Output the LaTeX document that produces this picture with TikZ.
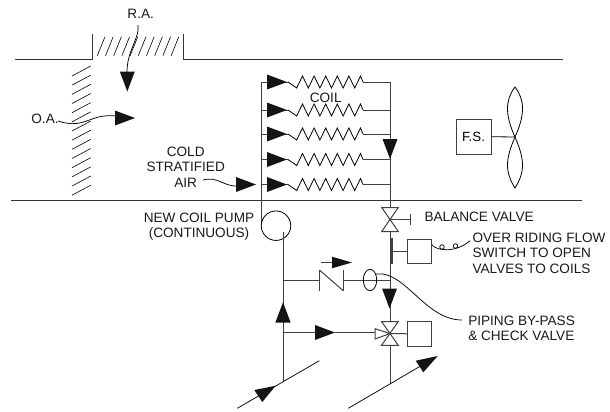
\documentclass[tikz,border=0pt]{standalone}
\usepackage{fontspec}
\setmainfont{Liberation Sans}
\tikzset{
    pipe/.style={line width=0.75pt,black!75},
    duct/.style={line width=0.75pt,black!80},
    leader/.style={line width=0.55pt},
    louver/.style={line width=0.45pt},
    flowtip/.style={fill=black!92,draw=none},
    equip/.style={draw=black!75,line width=0.75pt,fill=white,inner sep=0pt},
    valvepart/.style={draw=black!75,line width=0.75pt,fill=white},
    lab/.style={font=\fontsize{10.2}{11.6}\selectfont,inner sep=0pt,text=black!90}
}
\newcommand{\flowright}[2]{\fill[flowtip] (#1-10,#2-7.5) -- (#1+10,#2) -- (#1-10,#2+7.5) -- cycle;}
\newcommand{\flowdown}[2]{\fill[flowtip] (#1-7.5,#2-10) -- (#1,#2+10) -- (#1+7.5,#2-10) -- cycle;}
\begin{document}
\begin{tikzpicture}[x=0.75pt,y=-0.75pt]
    \useasboundingbox (0,0) rectangle (610,411);
    % duct
    \coordinate (ductl) at (15,59.5);
    \coordinate (raL) at (92,59.5);
    \coordinate (raR) at (183,59.5);
    \coordinate (ductr) at (563,59.5);
    \draw[duct] (ductl) -- (raL) -- (92,34);
    \draw[duct] (183,34) -- (raR) -- (ductr);
    \draw[duct] (10.5,200) -- (582,200);
    % louvers
    \foreach \i in {0,...,9}
        \draw[louver] (97.3+\i*8.2,55.7) -- (105+\i*8.2,36.7);
    \foreach \i in {0,...,13}
        \draw[louver] (72,76+\i*9.17) -- (90.7,66+\i*9.17);
    % air arrows
    \draw[leader] (138,25) .. controls (140,38) and (127,50) .. (127,72);
    \flowdown{127.3}{81.5}
    \draw[leader] (58,121) .. controls (85,130) and (90,113) .. (116,116);
    \flowright{125}{118}
    \draw[leader] (203,180) .. controls (218,176) and (222,186) .. (237,186);
    \flowright{246}{184.5}
    % coil bank
    \draw[pipe] (261.5,82) -- (261.5,225);
    \draw[pipe] (390,82) -- (390,384);
    \foreach \y in {82,110,134,159.5,184.5}{
        \draw[pipe] (261.5,\y) -- (288,\y);
        \draw[line width=0.6pt] (288,\y) -- (296.7,\y+6)
            \foreach \k in {0,...,4}{ -- (302.5+\k*11.6,\y-6) -- (308.3+\k*11.6,\y+6) }
            -- (360.5,\y-6) -- (363,\y);
        \draw[pipe] (363,\y) -- (390,\y);
        \flowright{277}{\y}
    }
    \flowdown{390}{149}
    \node[lab] (coillabel) at (325.7,98.3) {COIL};
    % fan
    \node[equip,minimum size=26.25pt] (fs) at (473.5,136.5) {F.S.};
    \coordinate (hub) at (515,137);
    \draw[line width=0.6pt] (fs) -- (hub);
    \draw[line width=0.6pt] (hub) .. controls (505,115) and (505,100) .. (515,87) .. controls (525,100) and (525,115) .. (hub);
    \draw[line width=0.6pt] (hub) .. controls (505,160) and (505,172) .. (515,188) .. controls (525,172) and (525,160) .. (hub);
    % pump and by-pass
    \node[draw=black,line width=0.6pt,circle,minimum size=22.1pt,inner sep=0pt] (pump) at (276,225.7) {};
    \draw[pipe] (283.3,232) -- (283.3,382);
    \draw[pipe] (283.3,280) -- (319.5,280);
    \draw[pipe] (319.5,270) -- (319.5,290.5);
    \draw[pipe] (319.5,270) -- (343,290.5);
    \draw[pipe] (343,270) -- (343,290.5);
    \draw[pipe] (343,280) -- (390,280);
    \draw[line width=0.6pt] (370,280) ellipse (6.7 and 10.7);
    \draw[pipe] (320.5,262.5) -- (334,262.5);
    \fill[flowtip] (332,256.7) -- (352,262.5) -- (332,268.3) -- cycle;
    \flowdown{389.5}{298.5}
    \fill[flowtip] (283,302.3) -- (275.3,322.7) -- (290.7,322.7) -- cycle;
    \draw[pipe] (283.3,332.7) -- (320,332.7);
    \flowright{325}{332.5}
    \draw[pipe] (335,332.7) -- (376,332.7);
    \draw[leader] (376,274) .. controls (405,270) and (425,320) .. (462,320);
    % balance valve
    \draw[valvepart] (381.7,207.5) -- (398.3,207.5) -- (381.7,231.5) -- (398.3,231.5) -- cycle;
    \draw[pipe] (390,219.5) -- (410.7,219.5);
    \draw[pipe] (410.7,214) -- (410.7,225);
    % flow switch
    \draw[line width=1.2pt,black!75] (391.7,238) -- (391.7,264);
    \node[equip,minimum size=18.2pt] (fsw) at (419.7,251.3) {};
    \draw[pipe] (391.7,251.3) -- (fsw);
    \draw[leader] (432,245) .. controls (437,251) and (456,253) .. (470,240.7);
    \draw[leader] (442,247) circle (2.3);
    \draw[leader] (455.5,246) circle (2.3);
    % control valve
    \draw[valvepart] (381.5,321.5) -- (398.3,321.5) -- (381.5,345.3) -- (398.3,345.3) -- cycle;
    \draw[valvepart] (390,333.5) -- (375,328.7) -- (375,339) -- cycle;
    \node[equip,minimum size=18.2pt] (cv) at (419.5,334) {};
    \draw[pipe] (390,333.5) -- (cv);
    % lower mains
    \draw[leader] (237.3,408.3) -- (319.3,360.7);
    \draw[leader] (348.3,408.3) -- (430,360.5);
    \fill[flowtip] (254.3,390) -- (275.7,385.7) -- (262.3,402) -- cycle;
    \fill[flowtip] (415.7,360.7) -- (437.7,356) -- (423.3,372.3) -- cycle;
    % labels
    \node[lab] (ra) at (140.7,14) {R.A.};
    \node[lab] (oa) at (45,119) {O.A.};
    \node[lab,align=center] (cold) at (185.7,167) {COLD\\STRATIFIED\\AIR};
    \node[lab,align=center] (newpump) at (199,226.5) {NEW COIL PUMP\\(CONTINUOUS)};
    \node[lab,anchor=west] (balance) at (424.3,216.7) {BALANCE VALVE};
    \node[lab,anchor=west,align=left] (override) at (472.3,253) {OVER RIDING FLOW\\SWITCH TO OPEN\\VALVES TO COILS};
    \node[lab,anchor=west,align=left] (bypass) at (468,328.5) {PIPING BY-PASS\\\& CHECK VALVE};
\end{tikzpicture}
\end{document}
